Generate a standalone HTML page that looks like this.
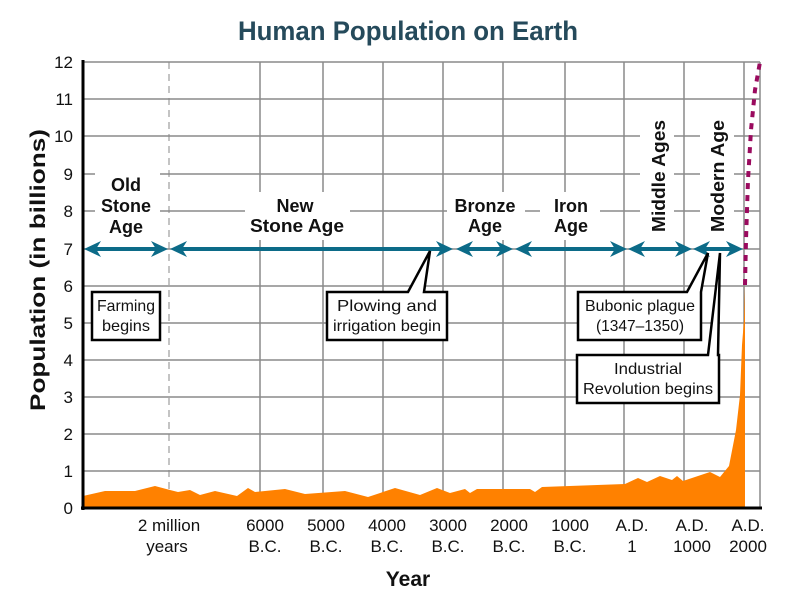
<!DOCTYPE html>
<html><head><meta charset="utf-8"><style>
html,body{margin:0;padding:0;background:#fff;}
svg{display:block;font-family:"Liberation Sans",sans-serif;}
</style></head><body>
<svg width="800" height="600" viewBox="0 0 800 600">
<rect width="800" height="600" fill="#fff"/>
<text x="408" y="40" text-anchor="middle" font-size="27" font-weight="bold" fill="#254a5b" textLength="340" lengthAdjust="spacingAndGlyphs">Human Population on Earth</text>
<g stroke="#8a8a8a" stroke-width="1.5">
<line x1="83" y1="62" x2="760" y2="62"/>
<line x1="83" y1="99" x2="760" y2="99"/>
<line x1="83" y1="136" x2="760" y2="136"/>
<line x1="83" y1="174" x2="760" y2="174"/>
<line x1="83" y1="211" x2="760" y2="211"/>
<line x1="83" y1="249" x2="760" y2="249"/>
<line x1="83" y1="286" x2="760" y2="286"/>
<line x1="83" y1="323" x2="760" y2="323"/>
<line x1="83" y1="360" x2="760" y2="360"/>
<line x1="83" y1="397" x2="760" y2="397"/>
<line x1="83" y1="434" x2="760" y2="434"/>
<line x1="83" y1="471" x2="760" y2="471"/>
<line x1="260" y1="62" x2="260" y2="508"/>
<line x1="323" y1="62" x2="323" y2="508"/>
<line x1="383" y1="62" x2="383" y2="508"/>
<line x1="443" y1="62" x2="443" y2="508"/>
<line x1="503" y1="62" x2="503" y2="508"/>
<line x1="565" y1="62" x2="565" y2="508"/>
<line x1="624" y1="62" x2="624" y2="508"/>
<line x1="684" y1="62" x2="684" y2="508"/>
<line x1="744" y1="62" x2="744" y2="508"/>
<line x1="760" y1="62" x2="760" y2="508"/>
</g>
<line x1="169" y1="62" x2="169" y2="508" stroke="#888" stroke-width="1" stroke-dasharray="7,5"/>
<g fill="#fff">
<rect x="95" y="172" width="65" height="70"/>
<rect x="245" y="192" width="105" height="48"/>
<rect x="447" y="192" width="78" height="48"/>
<rect x="540" y="192" width="60" height="48"/>
<rect x="640" y="115" width="34" height="125"/>
<rect x="700" y="115" width="34" height="125"/>
</g>
<path d="M83,508 L83,496 L105,491 L135,491 L155,486 L170,490 L178,492 L190,490 L200,495 L215,491 L237,496 L248,488 L255,492 L285,489 L305,494 L345,491 L368,497 L395,488 L420,495 L437,488 L450,493 L465,489 L470,493 L477,489 L530,489 L535,492 L542,487 L625,484 L638,478 L647,482 L660,476 L672,480 L677,476 L683,481 L710,472 L720,477 L729,466 L736,430 L740,395 L742,345 L744,320 L745,285 L745,508 Z" fill="#ff8100"/>
<path d="M745,285 L746,240 L748,180 L751,130 L755,90 L760,62" fill="none" stroke="#9a0a5e" stroke-width="4" stroke-dasharray="6,6"/>
<line x1="83" y1="60" x2="83" y2="510" stroke="#000" stroke-width="3"/>
<line x1="81" y1="508" x2="762" y2="508" stroke="#000" stroke-width="3"/>
<g stroke="#0c6b88" stroke-width="4">
<line x1="90" y1="249" x2="162" y2="249"/>
<line x1="176" y1="249" x2="447" y2="249"/>
<line x1="462" y1="249" x2="507" y2="249"/>
<line x1="521" y1="249" x2="621" y2="249"/>
<line x1="634" y1="249" x2="686" y2="249"/>
<line x1="699" y1="249" x2="737" y2="249"/>
</g>
<g fill="#0c6b88">
<path d="M84,249 L101,241 L96,249 L101,257Z"/>
<path d="M168,249 L151,241 L156,249 L151,257Z"/>
<path d="M170,249 L187,241 L182,249 L187,257Z"/>
<path d="M453,249 L436,241 L441,249 L436,257Z"/>
<path d="M456,249 L473,241 L468,249 L473,257Z"/>
<path d="M513,249 L496,241 L501,249 L496,257Z"/>
<path d="M515,249 L532,241 L527,249 L532,257Z"/>
<path d="M627,249 L610,241 L615,249 L610,257Z"/>
<path d="M628,249 L645,241 L640,249 L645,257Z"/>
<path d="M692,249 L675,241 L680,249 L675,257Z"/>
<path d="M693,249 L710,241 L705,249 L710,257Z"/>
<path d="M743,249 L726,241 L731,249 L726,257Z"/>
</g>
<g font-size="18" font-weight="bold" text-anchor="middle" fill="#111">
<text x="126" y="191">Old</text>
<text x="126" y="212">Stone</text>
<text x="126" y="233">Age</text>
<text x="295" y="212">New</text>
<text x="297" y="232" textLength="94" lengthAdjust="spacingAndGlyphs">Stone Age</text>
<text x="485" y="212">Bronze</text>
<text x="485" y="232">Age</text>
<text x="571" y="212">Iron</text>
<text x="571" y="232">Age</text>
<text transform="translate(665,176) rotate(-90)" textLength="112" lengthAdjust="spacingAndGlyphs">Middle Ages</text>
<text transform="translate(724,176) rotate(-90)" textLength="112" lengthAdjust="spacingAndGlyphs">Modern Age</text>
</g>
<g fill="#fff" stroke="#000" stroke-width="2.5">
<rect x="92" y="292" width="68" height="48"/>
<path d="M327,292 L408,292 L430,251 L424,292 L447,292 L447,340 L327,340 Z"/>
<path d="M578,292 L687,292 L708,253 L701,292 L701,340 L578,340 Z"/>
<path d="M577,355 L708,355 L720,253 L718,355 L719,355 L719,403 L577,403 Z"/>
</g>
<g font-size="16" text-anchor="middle" fill="#111">
<text x="126" y="311" textLength="58" lengthAdjust="spacingAndGlyphs">Farming</text>
<text x="126" y="331" textLength="48" lengthAdjust="spacingAndGlyphs">begins</text>
<text x="387" y="311" textLength="100" lengthAdjust="spacingAndGlyphs">Plowing and</text>
<text x="387" y="331" textLength="108" lengthAdjust="spacingAndGlyphs">irrigation begin</text>
<text x="640" y="311" textLength="110" lengthAdjust="spacingAndGlyphs">Bubonic plague</text>
<text x="640" y="331" textLength="88" lengthAdjust="spacingAndGlyphs">(1347–1350)</text>
<text x="648" y="374" textLength="68" lengthAdjust="spacingAndGlyphs">Industrial</text>
<text x="648" y="394" textLength="130" lengthAdjust="spacingAndGlyphs">Revolution begins</text>
</g>
<g font-size="17" text-anchor="end" fill="#111">
<text x="73" y="514">0</text>
<text x="73" y="477">1</text>
<text x="73" y="440">2</text>
<text x="73" y="403">3</text>
<text x="73" y="366">4</text>
<text x="73" y="329">5</text>
<text x="73" y="292">6</text>
<text x="73" y="255">7</text>
<text x="73" y="217">8</text>
<text x="73" y="180">9</text>
<text x="73" y="142">10</text>
<text x="73" y="105">11</text>
<text x="73" y="68">12</text>
</g>
<g font-size="17" text-anchor="middle" fill="#111">
<text x="169" y="531">2 million</text><text x="167" y="552">years</text>
<text x="265" y="531">6000</text><text x="265" y="552">B.C.</text>
<text x="326" y="531">5000</text><text x="326" y="552">B.C.</text>
<text x="387" y="531">4000</text><text x="387" y="552">B.C.</text>
<text x="448" y="531">3000</text><text x="448" y="552">B.C.</text>
<text x="509" y="531">2000</text><text x="509" y="552">B.C.</text>
<text x="570" y="531">1000</text><text x="570" y="552">B.C.</text>
<text x="632" y="531">A.D.</text><text x="632" y="552">1</text>
<text x="692" y="531">A.D.</text><text x="692" y="552">1000</text>
<text x="748" y="531">A.D.</text><text x="748" y="552">2000</text>
</g>
<text x="408" y="586" text-anchor="middle" font-size="21" font-weight="bold" fill="#111">Year</text>
<text transform="translate(45,270) rotate(-90)" text-anchor="middle" font-size="21" font-weight="bold" fill="#111" textLength="282" lengthAdjust="spacingAndGlyphs">Population (in billions)</text>
</svg>
</body></html>
